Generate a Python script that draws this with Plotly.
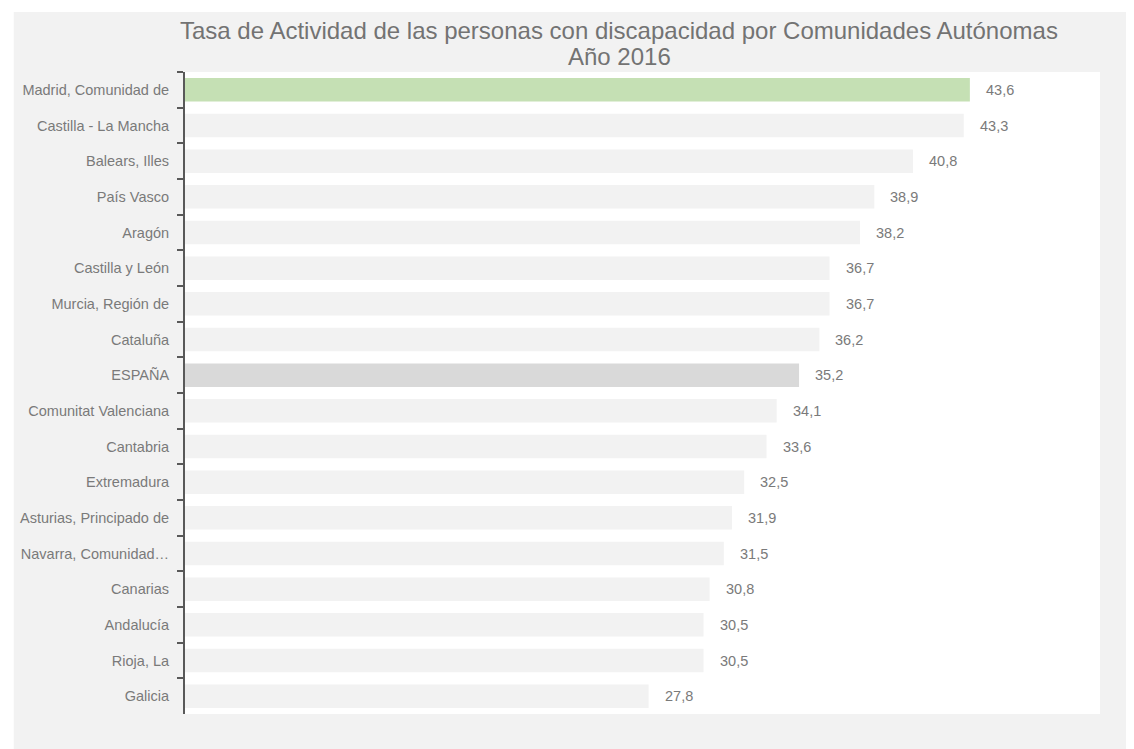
import plotly.graph_objects as go

categories = ["Madrid, Comunidad de", "Castilla - La Mancha", "Balears, Illes", "País Vasco",
              "Aragón", "Castilla y León", "Murcia, Región de", "Cataluña", "ESPAÑA",
              "Comunitat Valenciana", "Cantabria", "Extremadura", "Asturias, Principado de",
              "Navarra, Comunidad…", "Canarias", "Andalucía", "Rioja, La", "Galicia"]
values = [43.6, 43.3, 40.8, 38.9, 38.2, 36.7, 36.7, 36.2, 35.2,
          34.1, 33.6, 32.5, 31.9, 31.5, 30.8, 30.5, 30.5, 27.8]
value_labels = [f"{v:.1f}".replace(".", ",") for v in values]
title_lines = ["Tasa de Actividad de las personas con discapacidad por Comunidades Autónomas",
               "Año 2016"]

colors = []
for c in categories:
    if c.startswith("Madrid"):
        colors.append("#c5e0b4")
    elif c == "ESPAÑA":
        colors.append("#d9d9d9")
    else:
        colors.append("#f2f2f2")

LABEL_FONT = "Liberation Sans, Arial, sans-serif"
TEXT_COLOR = "#7a7a7a"

fig = go.Figure()
fig.add_trace(go.Bar(
    x=values, y=categories, orientation="h", base=0,
    marker=dict(color=colors, line=dict(width=0)),
    width=0.66, hoverinfo="skip",
))

# figure sits inside an 8px page margin
W, H = 1126, 741
L, R, T, B = 173, 34, 64, 35
pw, ph = W - L - R, H - T - B

def px_x(p):
    return (p - L) / pw

def px_y(p):
    return (T + ph - p) / ph

annotations = []
for c, v, t in zip(categories, values, value_labels):
    annotations.append(dict(x=v, y=c, xref="x", yref="y", text=t, showarrow=False,
                            xanchor="left", xshift=14,
                            font=dict(family=LABEL_FONT, size=14.5, color=TEXT_COLOR)))

for line, yc in zip(title_lines, [22, 49]):
    annotations.append(dict(x=px_x(609), y=px_y(yc), xref="paper", yref="paper",
                            text=line, showarrow=False, xanchor="center", yanchor="middle",
                            font=dict(family="Liberation Sans, Arial, sans-serif",
                                      size=24, color="#737373")))

shapes = [
    dict(type="rect", xref="paper", yref="paper", layer="below",
         x0=px_x(1), x1=px_x(W + 2), y0=px_y(H + 2), y1=px_y(4),
         fillcolor="#f2f2f2", line=dict(width=0)),
    dict(type="rect", xref="x domain", yref="y domain", layer="below",
         x0=0, x1=1, y0=0, y1=1, fillcolor="#ffffff", line=dict(width=0)),
]

fig.update_layout(
    width=W, height=H,
    margin=dict(l=L, r=R, t=T, b=B),
    paper_bgcolor="#ffffff", plot_bgcolor="rgba(0,0,0,0)",
    showlegend=False,
    xaxis=dict(range=[5, 50], visible=False, showgrid=False, zeroline=False),
    yaxis=dict(autorange="reversed", type="category", showgrid=False, zeroline=False,
               showline=True, linecolor="#595959", linewidth=2,
               ticks="outside", tickson="boundaries", ticklen=6, tickcolor="#595959", tickwidth=2,
               ticklabelstandoff=11,
               tickfont=dict(family=LABEL_FONT, size=14.5, color=TEXT_COLOR)),
    annotations=annotations,
    shapes=shapes,
)

fig.write_html("out.html")
